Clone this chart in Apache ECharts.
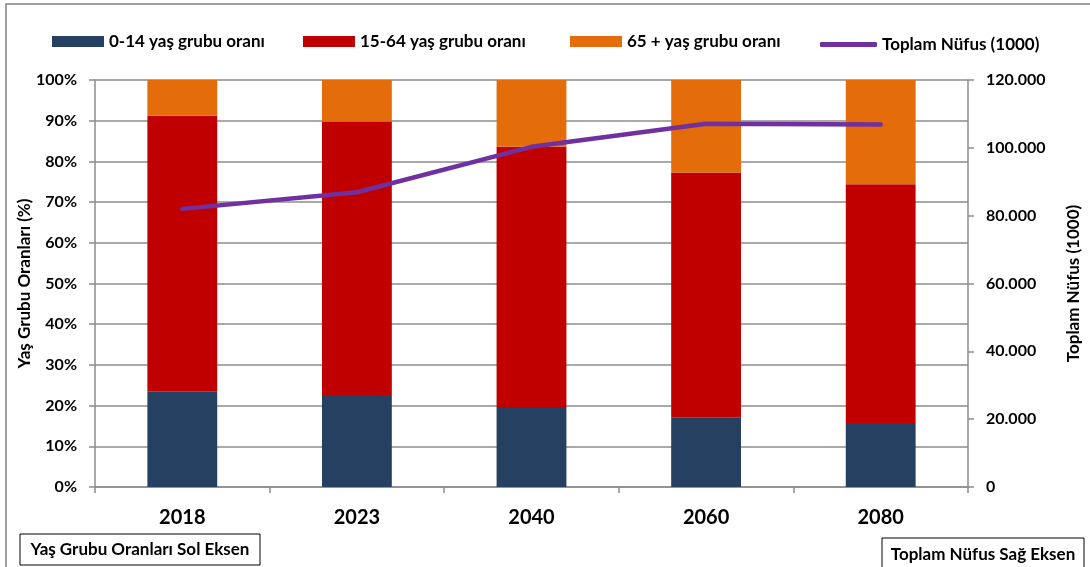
<!DOCTYPE html>
<html>
<head>
<meta charset="utf-8">
<script src="https://cdn.jsdelivr.net/npm/echarts@6/dist/echarts.min.js"></script>
<style>
html,body{margin:0;padding:0;background:#fff;}
#c{width:1090px;height:567px;}
</style>
</head>
<body>
<div id="c"></div>
<script>
var years = ['2018', '2023', '2040', '2060', '2080'];
var age0_14 = [23.5, 22.6, 19.4, 17.0, 15.7];
var age15_64 = [67.7, 67.2, 64.2, 60.3, 58.7];
var age65 = [8.8, 10.2, 16.4, 22.7, 25.6];
var population = [82000, 86900, 100300, 107100, 106900];
var leftTicks = {min: 0, max: 100, interval: 10};
var rightTicks = {min: 0, max: 120000, interval: 20000};

var FONT = 'Lato';
var chart = echarts.init(document.getElementById('c'));

function fmtThousands(v) {
  return String(v).replace(/\B(?=(\d{3})+(?!\d))/g, '.');
}

var legendBase = {
  top: 33, padding: 0, itemWidth: 52, itemHeight: 11, itemGap: 6,
  textStyle: {fontFamily: FONT, fontWeight: 'bold', fontSize: 17, color: '#000'},
  selectedMode: false
};

chart.setOption({
  animation: false,
  backgroundColor: '#fff',
  textStyle: {fontFamily: FONT},
  grid: {left: 95, right: 122, top: 80, bottom: 80, containLabel: false},
  legend: [
    Object.assign({}, legendBase, {left: 52, data: ['0-14 yaş grubu oranı'], icon: 'rect'}),
    Object.assign({}, legendBase, {left: 303, data: ['15-64 yaş grubu oranı'], icon: 'rect'}),
    Object.assign({}, legendBase, {left: 570, data: ['65 + yaş grubu oranı'], icon: 'rect'}),
    Object.assign({}, legendBase, {left: 820, top: 36, itemWidth: 57, itemHeight: 5, itemGap: 4, data: ['Toplam Nüfus (1000)'], icon: 'roundRect'})
  ],
  xAxis: {
    type: 'category',
    data: years,
    boundaryGap: true,
    axisLine: {lineStyle: {color: '#8c8c8c', width: 1.5}},
    axisTick: {show: true, length: 6, lineStyle: {color: '#8c8c8c', width: 1.5}},
    axisLabel: {fontFamily: FONT, fontWeight: 'bold', fontSize: 20, color: '#000', margin: 21}
  },
  yAxis: [
    {
      type: 'value', min: leftTicks.min, max: leftTicks.max, interval: leftTicks.interval,
      name: 'Yaş Grubu Oranları (%)', nameLocation: 'middle', nameGap: 62, nameRotate: 90,
      nameMoveOverlap: false,
      nameTextStyle: {fontFamily: FONT, fontWeight: 'bold', fontSize: 17, color: '#000'},
      axisLine: {show: true, lineStyle: {color: '#8c8c8c', width: 1.5}},
      axisTick: {show: true, length: 6, lineStyle: {color: '#8c8c8c', width: 1.5}},
      axisLabel: {fontFamily: FONT, fontWeight: 'bold', fontSize: 16, color: '#000', margin: 18, formatter: '{value}%'},
      splitLine: {show: true, lineStyle: {color: '#8c8c8c', width: 1.5}}
    },
    {
      type: 'value', min: rightTicks.min, max: rightTicks.max, interval: rightTicks.interval,
      name: 'Toplam Nüfus (1000)', nameLocation: 'middle', nameGap: 97, nameRotate: 90,
      nameMoveOverlap: false,
      nameTextStyle: {fontFamily: FONT, fontWeight: 'bold', fontSize: 17, color: '#000'},
      axisLine: {show: true, lineStyle: {color: '#8c8c8c', width: 1.5}},
      axisTick: {show: true, length: 6, lineStyle: {color: '#8c8c8c', width: 1.5}},
      axisLabel: {fontFamily: FONT, fontWeight: 'bold', fontSize: 16, color: '#000', margin: 18, formatter: fmtThousands},
      splitLine: {show: false}
    }
  ],
  series: [
    {name: '0-14 yaş grubu oranı', type: 'bar', stack: 'age', data: age0_14, barWidth: '40%',
     itemStyle: {color: '#264061'}},
    {name: '15-64 yaş grubu oranı', type: 'bar', stack: 'age', data: age15_64, barWidth: '40%',
     itemStyle: {color: '#C00000'}},
    {name: '65 + yaş grubu oranı', type: 'bar', stack: 'age', data: age65, barWidth: '40%',
     itemStyle: {color: '#E46C0A'}},
    {name: 'Toplam Nüfus (1000)', type: 'line', yAxisIndex: 1, data: population,
     symbol: 'none', z: 5,
     itemStyle: {color: '#7030A0'},
     lineStyle: {color: '#7030A0', width: 4.5, cap: 'round', join: 'round'}}
  ],
  graphic: [
    {type: 'rect', shape: {x: 6, y: 4, width: 1200, height: 700},
     style: {fill: 'none', stroke: '#808080', lineWidth: 1.5}, silent: true},
    {type: 'rect', shape: {x: 20, y: 534, width: 240, height: 31},
     style: {fill: '#fff', stroke: '#000', lineWidth: 1}},
    {type: 'text', x: 140, y: 550,
     style: {text: 'Yaş Grubu Oranları Sol Eksen', fontFamily: FONT, fontWeight: 'bold', fontSize: 17,
             fill: '#000', align: 'center', verticalAlign: 'middle'}},
    {type: 'rect', shape: {x: 882, y: 538, width: 202, height: 40},
     style: {fill: '#fff', stroke: '#000', lineWidth: 1}},
    {type: 'text', x: 983, y: 555,
     style: {text: 'Toplam Nüfus Sağ Eksen', fontFamily: FONT, fontWeight: 'bold', fontSize: 17,
             fill: '#000', align: 'center', verticalAlign: 'middle'}}
  ]
});
</script>
</body>
</html>
